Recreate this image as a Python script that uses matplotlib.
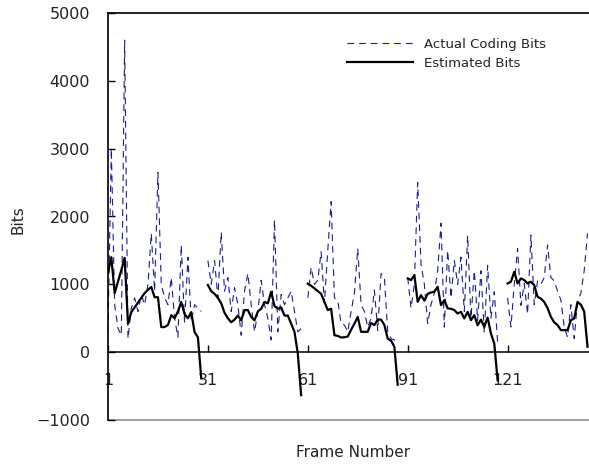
import numpy as np
import matplotlib
matplotlib.use("Agg")
import matplotlib.pyplot as plt

# ---- data ----
gop_starts = [1, 31, 61, 91, 121]

actual_gop1 = [300, 3000, 700, 350, 250, 4600, 200, 650, 800, 600, 850, 700, 1000, 1750, 900,
               2650, 1000, 800, 700, 1100, 500, 220, 1580, 430, 1400, 450, 700, 650, 600]
est_gop1 = [1170, 1400, 870, 1040, 1210, 1390, 420, 590, 660, 730, 800, 870, 920, 960, 810,
            810, 370, 370, 400, 545, 500, 600, 740, 560, 500, 590, 295, 220, -385]

actual_gop2 = [1350, 1000, 1350, 800, 1770, 900, 1100, 600, 950, 700, 250, 900, 1160, 700, 300,
               600, 1060, 700, 500, 180, 1950, 300, 850, 700, 800, 900, 600, 300, 350]
est_gop2 = [990, 900, 860, 800, 720, 580, 500, 440, 480, 540, 470, 620, 620, 520, 470,
            600, 640, 740, 720, 890, 680, 640, 660, 540, 540, 420, 300, -20, -634]

actual_gop3 = [800, 1250, 1000, 1060, 1480, 720, 1500, 2220, 800, 760, 420, 400, 300, 600,
               870, 1530, 700, 600, 370, 500, 915, 320, 1160, 1100, 300, 200, 180, 160]
est_gop3 = [1010, 980, 940, 900, 860, 740, 620, 640, 250, 240, 216, 220, 230, 330,
            420, 520, 300, 300, 300, 430, 400, 480, 480, 400, 200, 170, 80, -480]

actual_gop4 = [1100, 650, 1000, 2500, 1300, 1000, 420, 700, 870, 1200, 1900, 370, 1500, 800,
               1350, 1000, 1400, 600, 1720, 500, 1200, 470, 1200, 280, 1280, 500, 890, 150]
est_gop4 = [1087, 1063, 1136, 742, 840, 760, 860, 880, 890, 964, 693, 767, 645, 640,
            620, 570, 595, 497, 595, 472, 546, 398, 480, 373, 510, 275, 127, -414]

actual_gop5 = [800, 370, 1000, 1530, 690, 1013, 560, 1726, 700, 1050, 1000, 1100, 1580,
               1100, 1050, 900, 770, 370, 220, 700, 200, 750, 870, 1200, 1750]
est_gop5 = [1013, 1038, 1185, 1013, 1087, 1063, 1013, 1038, 988, 816, 790, 740, 650,
            520, 440, 400, 325, 325, 325, 472, 497, 740, 700, 600, 80]

x_ticks = [1, 31, 61, 91, 121]
y_ticks = [-1000, 0, 1000, 2000, 3000, 4000, 5000]

actual_gops = [actual_gop1, actual_gop2, actual_gop3, actual_gop4, actual_gop5]
est_gops = [est_gop1, est_gop2, est_gop3, est_gop4, est_gop5]

# assemble into frame-indexed series with gaps between GOPs
frames, actual, est = [], [], []
for s, a, e in zip(gop_starts, actual_gops, est_gops):
    frames += list(range(s, s + len(a))) + [s + len(a)]
    actual += list(a) + [np.nan]
    est += list(e) + [np.nan]
frames = np.array(frames, dtype=float)
actual = np.array(actual, dtype=float)
est = np.array(est, dtype=float)

# ---- figure ----
plt.rcParams['font.family'] = ['DejaVu Sans']
fig = plt.figure(figsize=(5.89, 4.65), dpi=100)
ax = fig.add_axes([108 / 589, 45 / 465, 1 - 108 / 589 + 0.002, (420 - 13) / 465])

l1, = ax.plot(frames, actual, color='#1c1c8e', lw=0.8, dashes=(6, 4.5))
l2, = ax.plot(frames, est, color='black', lw=1.6)

ax.set_xlim(1, 145.8)
ax.set_ylim(-1000, 5000)
ax.set_yticks(y_ticks)
ax.set_xticks(x_ticks)

ax.spines['right'].set_visible(False)
ax.spines['bottom'].set_position(('data', 0))
ax.spines['bottom'].set_linewidth(1.1)
ax.spines['left'].set_linewidth(1.2)
ax.spines['top'].set_linewidth(1.2)
ax.axhline(-1000, color='#a0a0a0', lw=1.4, clip_on=False, zorder=0.5)

ax.tick_params(axis='y', direction='in', length=5, width=1, pad=13, labelsize=11.5,
               labelcolor='#222222')
ax.tick_params(axis='x', direction='in', length=5, width=1, pad=15, labelsize=11.5,
               labelcolor='#222222')

leg = ax.legend([l1, l2], ['Actual Coding Bits', 'Estimated Bits'],
                loc='upper left', bbox_to_anchor=(347 / 589, 1 - 38 / 465),
                bbox_transform=fig.transFigure, frameon=False, fontsize=9.5,
                handlelength=5.0, handletextpad=0.8, labelspacing=0.45,
                borderpad=0, borderaxespad=0)
for t in leg.get_texts():
    t.set_color('#222222')

fig.text(18 / 589, 1 - 220 / 465, 'Bits', rotation=90, ha='center', va='center',
         fontsize=11, color='#222222')
fig.text(353 / 589, 1 - 452 / 465, 'Frame Number', ha='center', va='center',
         fontsize=11, color='#222222')

fig.savefig('out.png', dpi=100)
